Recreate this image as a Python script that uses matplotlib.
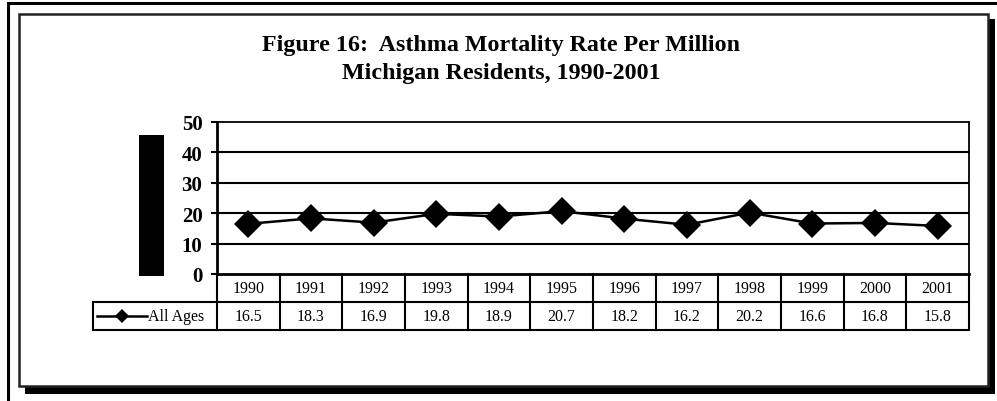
import matplotlib.pyplot as plt
from matplotlib.patches import Rectangle
from matplotlib.transforms import blended_transform_factory

years = ["1990", "1991", "1992", "1993", "1994", "1995",
         "1996", "1997", "1998", "1999", "2000", "2001"]
rates = [16.5, 18.3, 16.9, 19.8, 18.9, 20.7, 18.2, 16.2, 20.2, 16.6, 16.8, 15.8]
series_name = "All Ages"
yticks = [0, 10, 20, 30, 40, 50]
title_lines = ["Figure 16:  Asthma Mortality Rate Per Million",
               "Michigan Residents, 1990-2001"]

W, H = 997, 402
plt.rcParams['font.family'] = ['Liberation Serif', 'DejaVu Serif']

fig = plt.figure(figsize=(W / 100, H / 100), dpi=100)

# decoration layer in pixel coordinates
bg = fig.add_axes([0, 0, 1, 1])
bg.set_xlim(0, W)
bg.set_ylim(H, 0)
bg.axis('off')
# page frame
bg.plot([8, 8, W + 5], [H + 5, 4, 4], color='black', lw=2.2, solid_joinstyle='miter')
# shadow
bg.add_patch(Rectangle((25, 20), 970, 375, facecolor='black', edgecolor='none'))
# inner box
bg.add_patch(Rectangle((19, 15), 969, 372, facecolor='white', edgecolor='#222222', lw=1.8))
# black bar left of axis
bg.add_patch(Rectangle((139, 136), 25, 141, facecolor='black', edgecolor='none'))

bg.text(501, 46, title_lines[0], ha='center', va='center', fontsize=17.3,
        fontweight='bold')
bg.text(501, 74, title_lines[1], ha='center', va='center', fontsize=17.3,
        fontweight='bold')

# plot area
x0, x1 = 217 / W, 969 / W
y0, y1 = 1 - 275 / H, 1 - 123 / H
ax = fig.add_axes([x0, y0, x1 - x0, y1 - y0])
n = len(years)
xs = list(range(n))
ax.set_xlim(-0.5, n - 0.5)
ax.set_ylim(0, 50)
ax.set_yticks(yticks)
ax.set_yticklabels([str(v) for v in yticks], fontsize=15, fontweight='bold')
ax.tick_params(axis='y', length=4.5, width=1.5, pad=6)
ax.set_xticks([])
for v in yticks[1:-1]:
    ax.axhline(v, color='black', lw=1.5, zorder=1)
for side in ['top', 'right']:
    ax.spines[side].set_linewidth(1.3)
ax.spines['left'].set_linewidth(2)
ax.spines['bottom'].set_linewidth(2)
ax.plot(xs, rates, color='black', lw=1.8, marker='D', markersize=14.5,
        markeredgewidth=0, zorder=3, clip_on=False)

# data table under the plot
tr = blended_transform_factory(ax.transData, ax.transAxes)
px = (y1 - y0) * H  # axes height in px
r1 = -28 / px
r2 = -56 / px
lab_left = -0.5 - (217 - 93) / ((969 - 217) / n)
lw_t = 1.5
kw = dict(transform=tr, color='black', lw=lw_t, clip_on=False,
          solid_capstyle='projecting')
ax.plot([lab_left, n - 0.5], [r1, r1], **kw)
ax.plot([lab_left, n - 0.5], [r2, r2], **kw)
ax.plot([lab_left, lab_left], [r1, r2], **kw)
for i in range(n + 1):
    ax.plot([i - 0.5, i - 0.5], [0, r2], **kw)
for i in range(n):
    ax.text(xs[i], r1 / 2, years[i], transform=tr, ha='center', va='center',
            fontsize=11.5)
    ax.text(xs[i], (r1 + r2) / 2, f"{rates[i]:.1f}", transform=tr,
            ha='center', va='center', fontsize=11.5)

# legend key inside the label cell
cell_w = (969 - 217) / n
lx0 = lab_left + 4 / cell_w
lx1 = lab_left + 54 / cell_w
ym = (r1 + r2) / 2
ax.plot([lx0, lx1], [ym, ym], transform=tr, color='black', lw=1.8, clip_on=False)
ax.plot([(lx0 + lx1) / 2], [ym], transform=tr, color='black', marker='D',
        markersize=7, markeredgewidth=0, clip_on=False)
ax.text(lx1 + 1 / cell_w, ym, series_name, transform=tr, ha='left', va='center',
        fontsize=11.5)

fig.savefig('out.png', dpi=100)
